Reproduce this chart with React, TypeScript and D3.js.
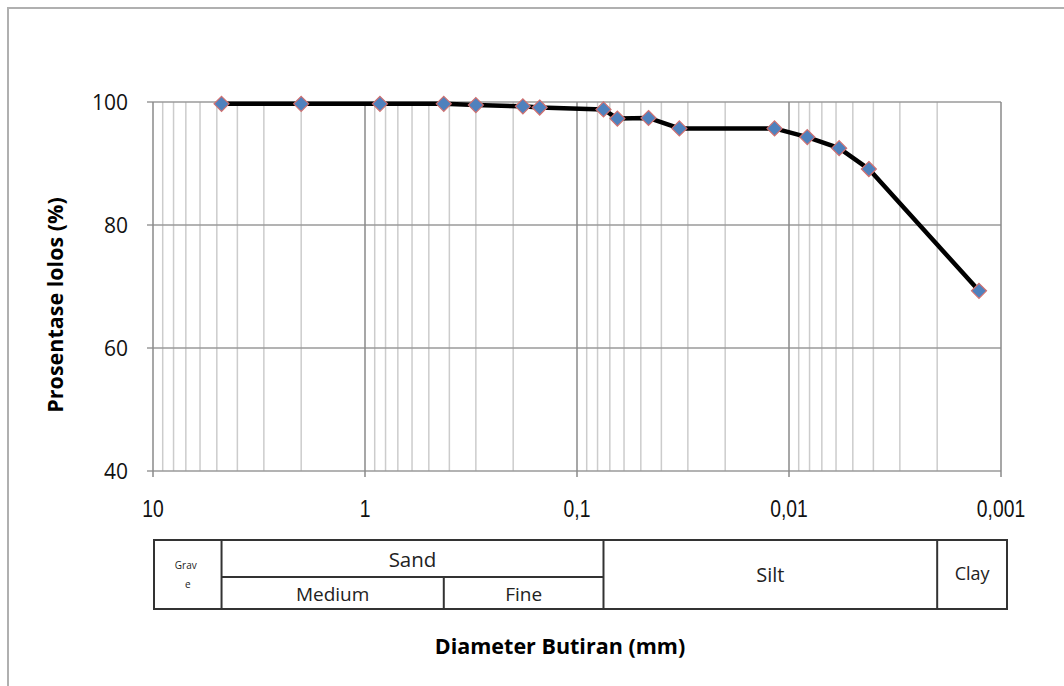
import React from "react";
import * as d3 from "d3";

// grain size analysis (sieve + hydrometer)
const diameters = [4.75, 2.0, 0.85, 0.425, 0.3, 0.18, 0.15, 0.075, 0.0645, 0.046, 0.0329, 0.0117, 0.0082, 0.0058, 0.0042, 0.00127];
const passing = [99.7, 99.7, 99.7, 99.7, 99.5, 99.3, 99.1, 98.8, 97.3, 97.4, 95.7, 95.7, 94.3, 92.5, 89.1, 69.3];

const xMajor = [10, 1, 0.1, 0.01, 0.001];
const xTickLabels = ["10", "1", "0,1", "0,01", "0,001"];
const yTicks = [40, 60, 80, 100];

// soil classification band boundaries (mm)
const gravelSand = 4.75;
const mediumFine = 0.425;
const sandSilt = 0.075;
const siltClay = 0.002;

const W = 1064;
const H = 686;
const left = 153;
const right = 1001;
const top = 102;
const bottom = 471;

const font = "'Open Sans', 'Liberation Sans', sans-serif";

export default function App() {
  const x = d3.scaleLog().domain([10, 0.001]).range([left, right]);
  const y = d3.scaleLinear().domain([40, 100]).range([bottom, top]);

  const minor: number[] = [];
  xMajor.slice(1).forEach((d) => {
    for (let k = 2; k <= 9; k++) minor.push(d * k);
  });

  const line = d3
    .line<number>()
    .x((d, i) => x(diameters[i]))
    .y((d) => y(d));

  const tTop = 540;
  const tMid = 577;
  const tBot = 609;
  const tLeft = x(10) + 1;
  const tRight = x(0.001) + 6;

  const diamond = (cx: number, cy: number, r: number) =>
    `M${cx},${cy - r}L${cx + r},${cy}L${cx},${cy + r}L${cx - r},${cy}Z`;

  return (
    <svg
      width={W}
      height={H}
      style={{ position: "absolute", left: 0, top: 0, background: "#fff" }}
    >
      {/* outer frame */}
      <path d={`M8,${H}V8H${W}`} fill="none" stroke="#b0b0b0" strokeWidth={2} />

      {/* minor vertical gridlines */}
      {minor.map((d, i) => (
        <line key={"m" + i} x1={x(d)} x2={x(d)} y1={top} y2={bottom} stroke="#cccccc" strokeWidth={1.5} />
      ))}
      {/* horizontal gridlines */}
      {yTicks.map((t) => (
        <line key={"h" + t} x1={left - 6} x2={right} y1={y(t)} y2={y(t)} stroke="#9a9a9a" strokeWidth={1.5} />
      ))}
      {/* major vertical gridlines */}
      {xMajor.map((d) => (
        <line key={"M" + d} x1={x(d)} x2={x(d)} y1={top} y2={bottom + 6} stroke="#8a8a8a" strokeWidth={1.5} />
      ))}

      {/* y tick labels */}
      {yTicks.map((t) => (
        <text key={"yl" + t} x={left - 25} y={y(t)} dy="0.36em" textAnchor="end" fontFamily={font} fontSize={21} fill="#111">
          {t}
        </text>
      ))}
      {/* x tick labels (condensed) */}
      {xMajor.map((d, i) => (
        <text
          key={"xl" + d}
          transform={`translate(${x(d)},509) scale(0.84,1)`}
          dy="0.36em"
          textAnchor="middle"
          fontFamily="'Liberation Sans', sans-serif"
          fontSize={23}
          fill="#111"
        >
          {xTickLabels[i]}
        </text>
      ))}

      {/* data line */}
      <path d={line(passing) || ""} fill="none" stroke="#000" strokeWidth={4.5} strokeLinejoin="round" />
      {passing.map((p, i) => (
        <path key={"p" + i} d={diamond(x(diameters[i]), y(p), 7.5)} fill="#4f81bd" stroke="#d07070" strokeWidth={1.2} />
      ))}

      {/* y axis title */}
      <text
        transform={`translate(55,${305}) rotate(-90)`}
        textAnchor="middle"
        dy="0.36em"
        fontFamily={font}
        fontWeight="bold"
        fontSize={21.5}
        fill="#000"
      >
        Prosentase lolos (%)
      </text>

      {/* classification table */}
      <g fill="none" stroke="#333" strokeWidth={2}>
        <rect x={tLeft} y={tTop} width={tRight - tLeft} height={tBot - tTop} />
        <line x1={x(gravelSand)} x2={x(gravelSand)} y1={tTop} y2={tBot} />
        <line x1={x(gravelSand)} x2={x(sandSilt)} y1={tMid} y2={tMid} />
        <line x1={x(mediumFine)} x2={x(mediumFine)} y1={tMid} y2={tBot} />
        <line x1={x(sandSilt)} x2={x(sandSilt)} y1={tTop} y2={tBot} />
        <line x1={x(siltClay)} x2={x(siltClay)} y1={tTop} y2={tBot} />
      </g>
      <g fontFamily={font} fill="#222" textAnchor="middle">
        <text x={(tLeft + x(gravelSand)) / 2 - 2} y={565} dy="0.36em" fontSize={10}>Grav</text>
        <text x={(tLeft + x(gravelSand)) / 2} y={584} dy="0.36em" fontSize={10}>e</text>
        <text x={(x(gravelSand) + x(sandSilt)) / 2} y={560} dy="0.36em" fontSize={20.5}>Sand</text>
        <text x={(x(gravelSand) + x(mediumFine)) / 2} y={594} dy="0.36em" fontSize={19}>Medium</text>
        <text x={(x(mediumFine) + x(sandSilt)) / 2} y={594} dy="0.36em" fontSize={19}>Fine</text>
        <text x={(x(sandSilt) + x(siltClay)) / 2} y={575} dy="0.36em" fontSize={20}>Silt</text>
        <text x={(x(siltClay) + tRight) / 2} y={574} dy="0.36em" fontSize={18}>Clay</text>
      </g>

      {/* x axis title */}
      <text x={560} y={646} dy="0.36em" textAnchor="middle" fontFamily={font} fontWeight="bold" fontSize={21.5} fill="#000">
        Diameter Butiran (mm)
      </text>
    </svg>
  );
}
